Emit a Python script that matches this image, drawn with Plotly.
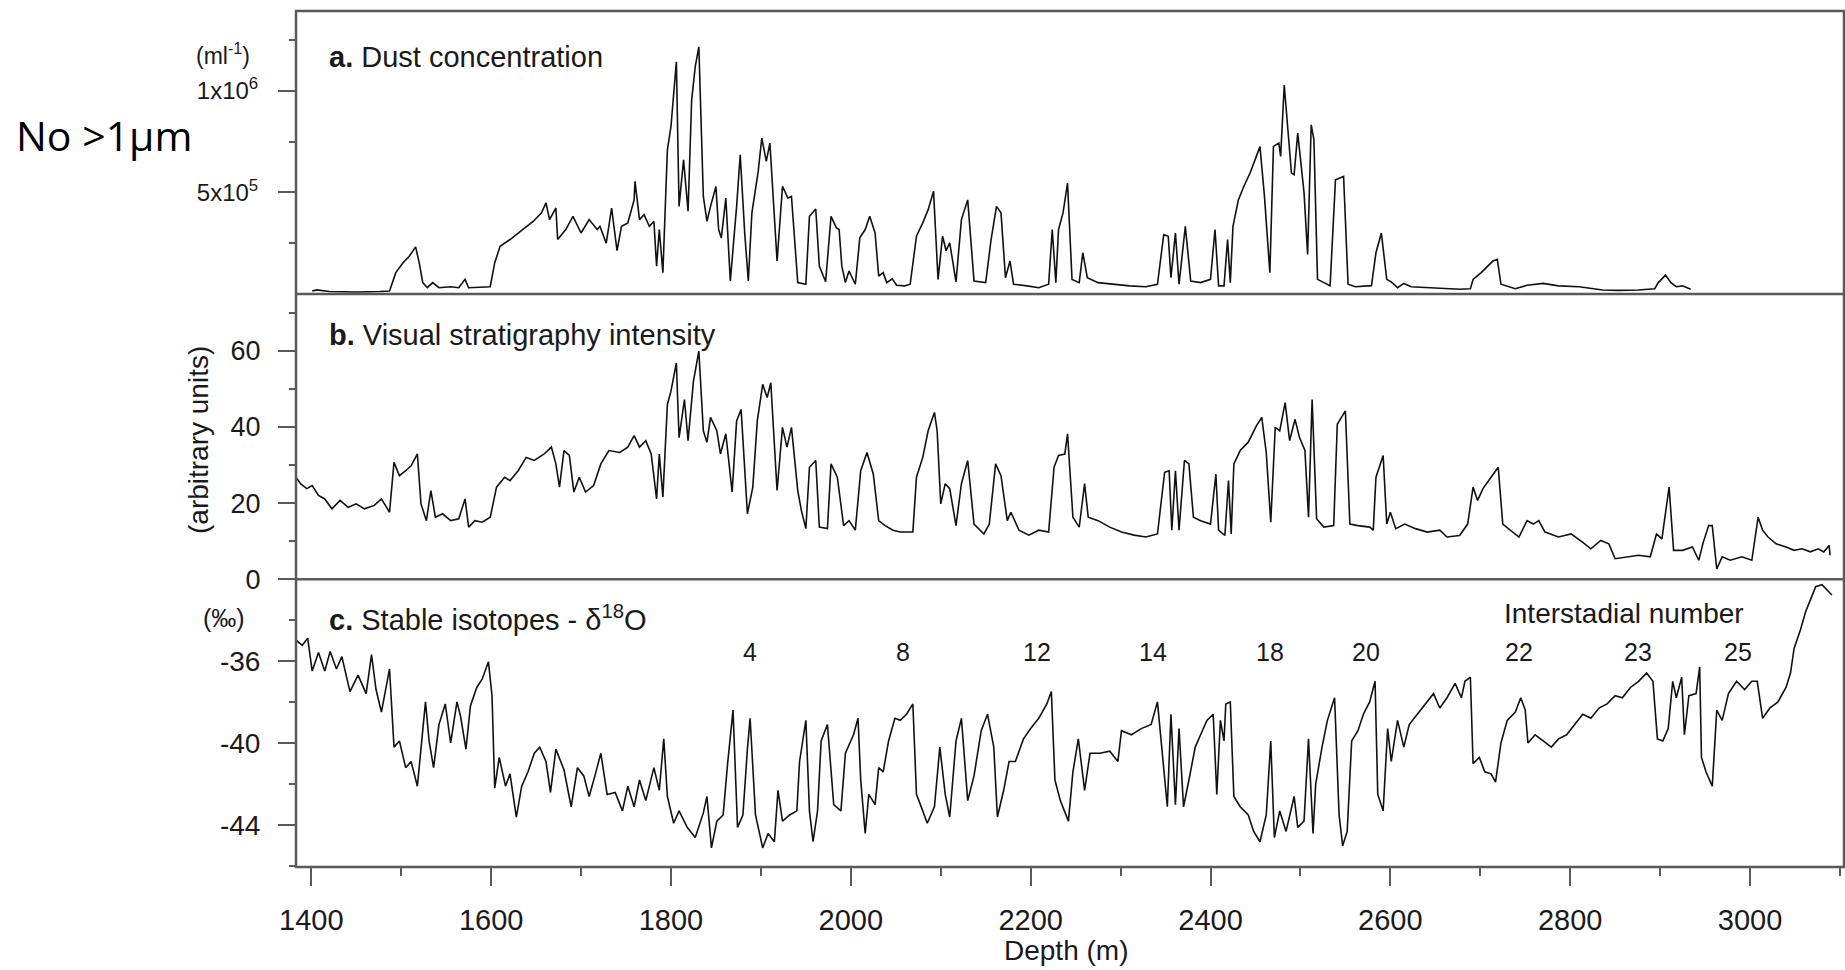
import plotly.graph_objects as go

# ---------------- data ----------------
dust_depth = [
    1401, 1406, 1420, 1450, 1476, 1487, 1494, 1502, 1509, 1516,
    1520, 1524, 1529, 1535, 1542, 1555, 1564, 1571, 1575, 1599,
    1604, 1610, 1621, 1630, 1639, 1647, 1656, 1661, 1665, 1672,
    1674, 1683, 1691, 1700, 1709, 1718, 1721, 1728, 1734, 1740,
    1745, 1752, 1759, 1760, 1765, 1770, 1776, 1781, 1784, 1787,
    1791, 1796, 1800, 1806, 1809, 1814, 1819, 1823, 1827, 1831,
    1836, 1840, 1844, 1850, 1853, 1856, 1861, 1866, 1873, 1877,
    1882, 1886, 1890, 1897, 1901, 1906, 1910, 1918, 1924, 1930,
    1934, 1941, 1950, 1954, 1961, 1965, 1972, 1978, 1984, 1987,
    1990, 1994, 1998, 2005, 2010, 2016, 2021, 2027, 2031, 2036,
    2040, 2046, 2051, 2060, 2066, 2073, 2080, 2086, 2092, 2097,
    2102, 2106, 2110, 2117, 2123, 2130, 2137, 2150, 2156, 2162,
    2167, 2172, 2177, 2181, 2196, 2209, 2220, 2224, 2228, 2231,
    2236, 2241, 2246, 2254, 2258, 2263, 2275, 2293, 2310, 2328,
    2341, 2348, 2353, 2356, 2361, 2365, 2372, 2378, 2389, 2400,
    2405, 2409, 2415, 2419, 2422, 2425, 2431, 2437, 2444, 2451,
    2455, 2460, 2466, 2470, 2476, 2478, 2482, 2490, 2493, 2497,
    2504, 2508, 2512, 2515, 2519, 2533, 2539, 2548, 2553, 2561,
    2579, 2584, 2590, 2596, 2601, 2608, 2615, 2623, 2641, 2659,
    2677, 2689, 2692, 2701, 2708, 2714, 2719, 2723, 2739, 2752,
    2770, 2787, 2810, 2836, 2854, 2876, 2894, 2898, 2906, 2912,
    2918, 2925, 2934,
]
# dust concentration, particles >1 um per ml
dust_conc = [
    0.15e5, 0.2e5, 0.12e5, 0.1e5, 0.12e5, 0.15e5, 1.05e5, 1.54e5, 1.86e5, 2.32e5,
    1.54e5, 0.56e5, 0.31e5, 0.56e5, 0.31e5, 0.36e5, 0.31e5, 0.72e5, 0.31e5, 0.36e5,
    1.54e5, 2.35e5, 2.68e5, 3.0e5, 3.33e5, 3.58e5, 3.99e5, 4.48e5, 3.66e5, 4.23e5,
    2.68e5, 3.17e5, 3.82e5, 3.0e5, 3.66e5, 3.17e5, 3.33e5, 2.5e5, 4.23e5, 2.13e5,
    3.33e5, 3.5e5, 4.63e5, 5.54e5, 3.66e5, 3.9e5, 3.33e5, 3.58e5, 1.37e5, 3.17e5,
    1.05e5, 7.09e5, 8.24e5, 11.42e5, 4.31e5, 6.6e5, 4.07e5, 9.54e5, 11.18e5, 12.16e5,
    4.8e5, 3.58e5, 4.31e5, 5.29e5, 3.17e5, 2.76e5, 4.72e5, 0.64e5, 4.31e5, 6.85e5,
    3.0e5, 0.64e5, 3.99e5, 6.03e5, 7.67e5, 6.52e5, 7.42e5, 1.62e5, 5.29e5, 4.72e5,
    4.8e5, 0.56e5, 0.48e5, 3.82e5, 4.18e5, 1.37e5, 0.6e5, 3.82e5, 3.25e5, 3.17e5,
    1.37e5, 0.56e5, 1.13e5, 0.48e5, 2.76e5, 3.17e5, 3.82e5, 3.0e5, 0.88e5, 1.05e5,
    0.56e5, 0.75e5, 0.43e5, 0.4e5, 0.48e5, 2.84e5, 3.5e5, 4.15e5, 5.05e5, 0.72e5,
    2.84e5, 2.13e5, 2.52e5, 0.6e5, 3.66e5, 4.63e5, 0.64e5, 0.56e5, 2.68e5, 4.31e5,
    3.99e5, 0.8e5, 1.62e5, 0.48e5, 0.4e5, 0.31e5, 0.48e5, 3.17e5, 0.56e5, 3.17e5,
    3.99e5, 5.46e5, 0.72e5, 0.56e5, 2.03e5, 0.8e5, 0.56e5, 0.48e5, 0.4e5, 0.36e5,
    0.48e5, 2.92e5, 2.84e5, 0.8e5, 3.0e5, 0.48e5, 3.33e5, 0.64e5, 0.56e5, 0.72e5,
    3.17e5, 0.4e5, 0.4e5, 2.68e5, 0.56e5, 3.33e5, 4.63e5, 5.29e5, 5.95e5, 6.77e5,
    7.26e5, 4.8e5, 1.05e5, 7.26e5, 7.42e5, 6.77e5, 10.28e5, 5.95e5, 5.87e5, 7.91e5,
    5.0e5, 1.95e5, 8.32e5, 7.59e5, 0.72e5, 0.41e5, 5.62e5, 5.78e5, 0.48e5, 0.36e5,
    0.41e5, 2.03e5, 3.0e5, 0.72e5, 0.6e5, 0.31e5, 0.52e5, 0.36e5, 0.31e5, 0.26e5,
    0.23e5, 0.26e5, 0.72e5, 1.05e5, 1.37e5, 1.62e5, 1.7e5, 0.48e5, 0.26e5, 0.43e5,
    0.52e5, 0.4e5, 0.36e5, 0.2e5, 0.18e5, 0.2e5, 0.26e5, 0.56e5, 0.93e5, 0.56e5,
    0.36e5, 0.4e5, 0.23e5,
]

vs_depth = [
    1383, 1388, 1395, 1401, 1408, 1415, 1423, 1432, 1441, 1450,
    1459, 1470, 1478, 1487, 1492, 1498, 1505, 1511, 1518, 1522,
    1528, 1533, 1538, 1546, 1555, 1564, 1571, 1575, 1582, 1590,
    1599, 1606, 1615, 1621, 1630, 1639, 1648, 1659, 1667, 1672,
    1676, 1681, 1687, 1692, 1698, 1705, 1714, 1722, 1731, 1743,
    1752, 1759, 1765, 1772, 1778, 1784, 1787, 1791, 1796, 1800,
    1806, 1809, 1815, 1819, 1825, 1831, 1836, 1840, 1844, 1851,
    1855, 1861, 1868, 1873, 1878, 1885, 1891, 1896, 1902, 1907,
    1911, 1918, 1924, 1929, 1934, 1941, 1945, 1950, 1954, 1961,
    1965, 1974, 1978, 1985, 1992, 1998, 2005, 2011, 2018, 2025,
    2031, 2038, 2047, 2055, 2069, 2073, 2080, 2086, 2093, 2096,
    2100, 2105, 2110, 2117, 2123, 2130, 2137, 2148, 2154, 2161,
    2167, 2174, 2178, 2187, 2198, 2209, 2220, 2226, 2231, 2238,
    2241, 2247, 2254, 2260, 2264, 2275, 2288, 2301, 2315, 2328,
    2341, 2349, 2354, 2357, 2361, 2365, 2371, 2376, 2381, 2389,
    2400, 2406, 2409, 2416, 2420, 2423, 2426, 2433, 2442, 2451,
    2457, 2462, 2467, 2472, 2477, 2483, 2488, 2494, 2499, 2505,
    2509, 2513, 2518, 2526, 2537, 2541, 2550, 2555, 2564, 2577,
    2581, 2584, 2592, 2596, 2600, 2606, 2616, 2628, 2641, 2655,
    2663, 2677, 2686, 2692, 2697, 2703, 2712, 2720, 2725, 2734,
    2743, 2752, 2759, 2765, 2772, 2787, 2801, 2814, 2823, 2834,
    2843, 2850, 2863, 2876, 2889, 2896, 2902, 2910, 2915, 2925,
    2936, 2943, 2948, 2954, 2958, 2963, 2969, 2978, 2991, 3002,
    3009, 3014, 3020, 3029, 3040, 3049, 3058, 3067, 3076, 3082,
    3088, 3089,
]
vs_intensity = [
    26.8, 25.1, 23.8, 24.6, 22.0, 21.1, 18.5, 20.7, 18.9, 19.8,
    18.5, 19.4, 21.1, 17.6, 30.7, 27.2, 28.5, 29.8, 32.9, 19.8,
    15.4, 23.3, 16.3, 17.2, 15.4, 15.9, 21.1, 13.7, 15.4, 15.0,
    16.3, 24.2, 26.8, 25.9, 28.5, 32.0, 31.2, 32.9, 34.7, 30.3,
    24.2, 33.8, 32.5, 22.9, 26.8, 22.9, 24.6, 30.3, 33.8, 33.3,
    34.7, 37.7, 34.7, 36.4, 32.9, 21.1, 32.9, 21.6, 45.9, 49.4,
    56.8, 37.2, 47.2, 36.4, 52.0, 59.9, 39.0, 36.0, 42.5, 39.0,
    32.9, 38.2, 22.9, 41.6, 44.6, 17.2, 24.2, 41.6, 51.2, 47.7,
    51.6, 23.3, 39.9, 34.7, 39.9, 23.3, 18.1, 13.3, 29.4, 31.2,
    13.7, 13.3, 30.3, 26.8, 14.1, 15.4, 12.9, 28.5, 33.3, 27.6,
    15.4, 14.1, 12.9, 12.4, 12.4, 26.8, 32.0, 39.0, 43.8, 39.0,
    19.8, 25.1, 23.8, 14.1, 25.1, 31.2, 14.5, 11.9, 14.5, 30.3,
    27.2, 15.4, 17.6, 12.9, 11.6, 12.9, 12.4, 29.4, 32.5, 32.9,
    38.2, 16.3, 13.7, 25.1, 16.3, 15.4, 13.7, 12.4, 11.6, 11.1,
    11.9, 28.1, 28.5, 12.9, 28.5, 12.9, 31.2, 30.3, 16.3, 15.4,
    14.5, 27.6, 12.9, 11.5, 25.9, 11.9, 30.3, 33.8, 36.0, 40.3,
    42.5, 33.3, 15.0, 39.9, 39.0, 46.4, 36.4, 42.0, 37.2, 33.8,
    16.3, 47.2, 15.9, 13.7, 14.1, 40.7, 44.2, 14.5, 14.1, 13.7,
    12.9, 26.8, 32.5, 14.5, 17.6, 13.3, 14.5, 13.3, 12.4, 12.9,
    11.1, 11.5, 14.5, 24.2, 20.7, 23.8, 26.8, 29.4, 14.5, 12.9,
    11.1, 15.4, 14.5, 15.4, 12.4, 11.1, 11.9, 9.7, 8.0, 10.2,
    9.3, 5.4, 5.9, 6.3, 5.9, 11.9, 10.6, 24.2, 7.6, 7.6,
    8.5, 5.0, 9.7, 14.1, 14.1, 2.7, 5.9, 5.0, 5.9, 5.0,
    16.3, 12.9, 11.1, 9.3, 8.5, 7.6, 8.0, 7.2, 8.0, 7.2,
    8.9, 6.3,
]

iso_depth = [
    1383, 1390, 1396, 1401, 1408, 1415, 1421, 1428, 1434, 1443,
    1452, 1461, 1467, 1472, 1478, 1483, 1487, 1492, 1498, 1505,
    1511, 1518, 1527, 1531, 1536, 1542, 1549, 1555, 1562, 1566,
    1572, 1577, 1584, 1590, 1597, 1601, 1604, 1609, 1616, 1621,
    1628, 1634, 1641, 1648, 1654, 1661, 1666, 1672, 1681, 1689,
    1696, 1703, 1709, 1716, 1722, 1729, 1738, 1746, 1752, 1759,
    1765, 1772, 1781, 1787, 1792, 1796, 1803, 1809, 1818, 1827,
    1836, 1840, 1845, 1851, 1858, 1863, 1869, 1874, 1880, 1885,
    1888, 1894, 1902, 1908, 1915, 1919, 1924, 1932, 1940, 1943,
    1950, 1954, 1958, 1963, 1967, 1974, 1981, 1989, 1994, 2003,
    2008, 2011, 2016, 2020, 2027, 2031, 2036, 2042, 2049, 2055,
    2062, 2069, 2073, 2080, 2085, 2093, 2099, 2105, 2110, 2117,
    2123, 2130, 2137, 2145, 2152, 2159, 2163, 2170, 2176, 2183,
    2192, 2200, 2209, 2218, 2223, 2227, 2233, 2242, 2247, 2253,
    2260, 2266, 2277, 2288, 2297, 2301, 2312, 2323, 2334, 2341,
    2345, 2352, 2356, 2361, 2365, 2370, 2376, 2383, 2389, 2396,
    2403, 2407, 2411, 2415, 2417, 2422, 2426, 2433, 2442, 2448,
    2455, 2462, 2467, 2471, 2477, 2484, 2493, 2497, 2504, 2509,
    2514, 2517, 2524, 2530, 2538, 2543, 2547, 2552, 2557, 2564,
    2570, 2577, 2583, 2586, 2592, 2597, 2601, 2608, 2615, 2621,
    2630, 2639, 2648, 2655, 2663, 2672, 2679, 2683, 2689, 2692,
    2699, 2705, 2712, 2717, 2723, 2730, 2739, 2745, 2750, 2753,
    2761, 2770, 2779, 2787, 2796, 2805, 2814, 2823, 2832, 2841,
    2850, 2858, 2867, 2876, 2885, 2892, 2897, 2903, 2909, 2914,
    2918, 2924, 2927, 2932, 2940, 2944, 2946, 2951, 2958, 2963,
    2969, 2976, 2985, 2994, 3002, 3008, 3014, 3022, 3031, 3040,
    3045, 3049, 3056, 3062, 3069, 3073, 3080, 3087, 3091,
]
d18o = [
    -35.0, -35.25, -34.9, -36.5, -35.6, -36.5, -35.55, -36.4, -35.8, -37.5,
    -36.7, -37.6, -35.7, -37.4, -38.5, -37.4, -36.4, -40.2, -39.9, -41.2,
    -40.9, -42.1, -38.0, -39.9, -41.2, -39.1, -38.1, -40.0, -38.0, -38.7,
    -40.3, -38.2, -37.3, -36.9, -36.05, -37.7, -42.2, -40.7, -42.1, -41.5,
    -43.6, -42.1, -41.4, -40.5, -40.2, -40.9, -42.4, -40.3, -41.3, -43.1,
    -41.2, -41.6, -42.6, -41.5, -40.5, -42.5, -42.4, -43.3, -42.1, -43.1,
    -41.8, -42.8, -41.2, -42.3, -39.8, -42.6, -43.9, -43.3, -44.1, -44.6,
    -43.4, -42.6, -45.1, -43.8, -43.5, -41.0, -38.4, -44.1, -43.5, -40.3,
    -38.8, -43.5, -45.1, -44.4, -44.8, -42.3, -43.8, -43.5, -43.3, -40.9,
    -38.9, -43.3, -44.8, -43.3, -39.9, -39.1, -43.0, -43.3, -40.5, -39.6,
    -38.8, -41.8, -44.4, -42.5, -43.0, -41.2, -41.4, -39.9, -38.8, -38.9,
    -38.6, -38.1, -42.5, -43.3, -43.9, -43.1, -40.2, -42.5, -43.6, -39.9,
    -38.8, -42.8, -41.6, -39.4, -38.6, -40.2, -43.6, -42.3, -40.9, -40.9,
    -39.8, -39.3, -38.8, -38.1, -37.5, -41.8, -42.8, -43.8, -41.4, -39.8,
    -42.3, -40.5, -40.5, -40.4, -40.9, -39.4, -39.6, -39.3, -39.1, -38.0,
    -39.8, -43.1, -38.6, -43.0, -39.3, -43.1, -41.8, -40.2, -39.6, -38.9,
    -38.6, -42.5, -38.9, -39.9, -38.1, -38.0, -42.6, -43.1, -43.5, -44.3,
    -44.8, -43.5, -39.9, -44.6, -43.3, -44.3, -42.6, -44.1, -43.8, -39.8,
    -44.4, -42.0, -40.2, -38.9, -37.8, -43.5, -45.0, -44.3, -39.9, -39.4,
    -38.6, -38.0, -37.0, -42.5, -43.3, -39.3, -40.9, -38.9, -40.2, -39.1,
    -38.6, -38.1, -37.6, -38.3, -37.8, -37.1, -37.8, -37.0, -36.8, -41.0,
    -40.7, -41.4, -41.5, -41.9, -40.0, -38.9, -38.5, -37.8, -38.4, -40.0,
    -39.6, -39.9, -40.2, -39.8, -39.6, -39.1, -38.6, -38.8, -38.3, -38.1,
    -37.7, -37.8, -37.3, -37.0, -36.6, -37.0, -39.8, -39.9, -39.3, -37.0,
    -37.8, -36.8, -39.6, -37.7, -37.6, -36.3, -40.7, -41.4, -42.1, -38.4,
    -38.9, -37.6, -37.0, -37.4, -37.0, -37.0, -38.8, -38.3, -38.0, -37.3,
    -36.6, -35.4, -34.5, -33.6, -32.8, -32.4, -32.3, -32.6, -32.8,
]

interstadial_depth = [1888, 2058, 2207, 2336, 2466, 2573, 2743, 2875, 2987]
interstadial_label = ["4", "8", "12", "14", "18", "20", "22", "23", "25"]

depth_ticks = [1400, 1600, 1800, 2000, 2200, 2400, 2600, 2800, 3000]
dust_tickvals = [5e5, 1e6]
dust_ticktext = ["5x10<sup>5</sup>", "1x10<sup>6</sup>"]
dust_minor = [2.5e5, 7.5e5, 1.25e6]
vs_tickvals = [0, 20, 40, 60]
vs_minor = [10, 30, 50, 70]
iso_tickvals = [-44, -40, -36]
iso_ticktext = ["-44", "-40", "-36"]
iso_minor = [-46, -42, -38, -34]

assert len(dust_depth) == len(dust_conc)
assert len(vs_depth) == len(vs_intensity)
assert len(iso_depth) == len(d18o)

# ---------------- layout geometry ----------------
W, H = 1845, 970
ML, MR, MT, MB = 296, 1, 11, 103
PH = H - MT - MB          # plot-area height in px
PW = W - ML - MR


def py(px):   # pixel y -> paper y
    return (H - MB - px) / PH


def pxx(px):  # pixel x -> paper x
    return (px - ML) / PW


dom_a = [py(294), 1.0]
dom_b = [py(579.3), py(294)]
dom_c = [0.0, py(579.3)]

FONT = "Liberation Sans, Arial, Helvetica, sans-serif"
TXT = "#1a1a1a"
AX = "#5a5a5a"
LINE = dict(color="#111111", width=1.6)

fig = go.Figure()
fig.add_trace(go.Scatter(x=dust_depth, y=dust_conc, mode="lines", line=LINE,
                         xaxis="x", yaxis="y", showlegend=False))
fig.add_trace(go.Scatter(x=vs_depth, y=vs_intensity, mode="lines", line=LINE,
                         xaxis="x", yaxis="y2", showlegend=False))
fig.add_trace(go.Scatter(x=iso_depth, y=d18o, mode="lines", line=LINE,
                         xaxis="x", yaxis="y3", showlegend=False))

yax_common = dict(anchor="x", showgrid=False, zeroline=False, showline=False,
                  ticks="outside", ticklen=17, tickwidth=2, tickcolor=AX,
                  fixedrange=True)

fig.update_layout(
    width=W, height=H, autosize=False,
    margin=dict(l=ML, r=MR, t=MT, b=MB, pad=0),
    paper_bgcolor="white", plot_bgcolor="white",
    font=dict(family=FONT, color=TXT),
    xaxis=dict(domain=[0, 1], anchor="y3", range=[1383, 3104.5],
               tickmode="array", tickvals=depth_ticks,
               ticks="outside", ticklen=18, tickwidth=2, tickcolor=AX,
               minor=dict(dtick=100, tick0=1400, ticks="outside", ticklen=8,
                          tickwidth=2, tickcolor=AX),
               showgrid=False, zeroline=False, showline=False,
               tickfont=dict(size=29, color=TXT), ticklabelstandoff=9),
    yaxis=dict(domain=dom_a, range=[0, 1.392e6], tickmode="array",
               tickvals=dust_tickvals, ticktext=dust_ticktext,
               minor=dict(tickmode="array", tickvals=dust_minor, ticks="outside",
                          ticklen=6, tickwidth=2, tickcolor=AX),
               tickfont=dict(size=24, color=TXT), ticklabelstandoff=15,
               **yax_common),
    yaxis2=dict(domain=dom_b, range=[0, 74.9], tickmode="array",
                tickvals=vs_tickvals,
                minor=dict(tickmode="array", tickvals=vs_minor, ticks="outside",
                           ticklen=6, tickwidth=2, tickcolor=AX),
                tickfont=dict(size=27, color=TXT), ticklabelstandoff=12,
                **yax_common),
    yaxis3=dict(domain=dom_c, range=[-46.03, -32.04], tickmode="array",
                tickvals=iso_tickvals, ticktext=iso_ticktext,
                minor=dict(tickmode="array", tickvals=iso_minor, ticks="outside",
                           ticklen=6, tickwidth=2, tickcolor=AX),
                tickfont=dict(size=28, color=TXT), ticklabelstandoff=12,
                **yax_common),
)

# frame and panel dividers
frame = dict(color=AX, width=2.5)
fig.add_shape(type="rect", xref="paper", yref="paper", x0=0, x1=1, y0=0, y1=1,
              line=frame, layer="above")
for yy in (dom_a[0], dom_b[0]):
    fig.add_shape(type="line", xref="paper", yref="paper", x0=0, x1=1,
                  y0=yy, y1=yy, line=frame, layer="above")

ann = []
# panel titles
for txt, ypx in [("<b>a.</b> Dust concentration", 56.5),
                 ("<b>b.</b> Visual stratigraphy intensity", 335),
                 ("<b>c.</b> Stable isotopes - δ<sup>18</sup>O", 618)]:
    ann.append(dict(text=txt, xref="paper", yref="paper", x=pxx(327), y=py(ypx),
                    xanchor="left", yanchor="middle", showarrow=False,
                    font=dict(size=29, color=TXT)))
# unit labels
ann.append(dict(text="(ml<sup>-1</sup>)", xref="paper", yref="paper",
                x=pxx(223), y=py(54), xanchor="center", yanchor="middle",
                showarrow=False, font=dict(size=23, color=TXT)))
ann.append(dict(text="(arbitrary units)", xref="paper", yref="paper",
                x=pxx(199), y=py(440), xanchor="center", yanchor="middle",
                textangle=-90, showarrow=False, font=dict(size=28, color=TXT)))
ann.append(dict(text="(‰)", xref="paper", yref="paper",
                x=pxx(224), y=py(618), xanchor="center", yanchor="middle",
                showarrow=False, font=dict(size=25, color=TXT)))
ann.append(dict(text="No >1µm", xref="paper", yref="paper",
                x=pxx(104), y=py(135), xanchor="center", yanchor="middle",
                showarrow=False,
                font=dict(size=41, color="#000000", family="Open Sans, Noto Sans, sans-serif")))
ann.append(dict(text="Depth (m)", xref="paper", yref="paper",
                x=pxx(1066), y=py(950), xanchor="center", yanchor="middle",
                showarrow=False, font=dict(size=28, color=TXT)))
# interstadial numbers
for d, lab in zip(interstadial_depth, interstadial_label):
    ann.append(dict(text=lab, xref="x", yref="paper", x=d, y=py(651.5),
                    xanchor="center", yanchor="middle", showarrow=False,
                    font=dict(size=25, color=TXT)))
ann.append(dict(text="Interstadial number", xref="x", yref="paper", x=2860,
                y=py(613), xanchor="center", yanchor="middle", showarrow=False,
                font=dict(size=28, color=TXT)))
fig.update_layout(annotations=ann)

fig.write_html("out.html", include_plotlyjs=True,
               config={"displayModeBar": False, "responsive": False})
